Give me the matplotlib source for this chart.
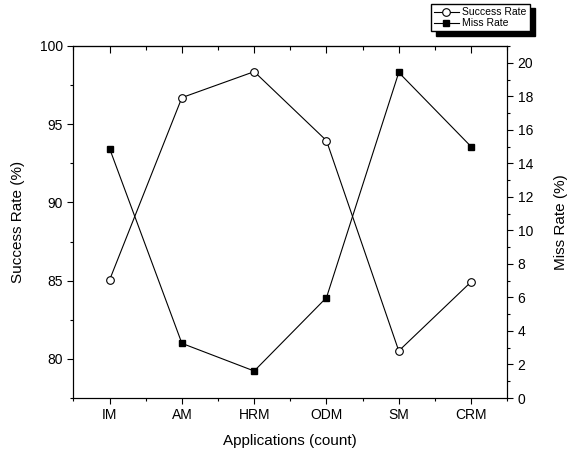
import matplotlib
matplotlib.use('Agg')
import matplotlib.pyplot as plt
from matplotlib.ticker import MultipleLocator, FixedLocator

plt.rcParams['font.family'] = ['Liberation Sans', 'DejaVu Sans']

apps = ['IM', 'AM', 'HRM', 'ODM', 'SM', 'CRM']
success_rate = [85.05, 96.7, 98.36, 93.95, 80.51, 84.92]
miss_rate = [14.88, 3.26, 1.61, 5.99, 19.42, 15.0]

x = list(range(1, len(apps) + 1))

fig = plt.figure(figsize=(5.83, 4.53), dpi=100)
ax = fig.add_axes([0.126, 0.1214, 0.744, 0.7771])
ax2 = ax.twinx()

l1, = ax.plot(x, success_rate, color='black', lw=0.8, marker='o', ms=5.5,
              mfc='white', mec='black', mew=0.8, label='Success Rate')
l2, = ax2.plot(x, miss_rate, color='black', lw=0.8, marker='s', ms=5,
               mfc='black', mec='black', label='Miss Rate')

ax.set_xlim(0.5, 6.5)
ax.set_ylim(77.5, 100)
ax2.set_ylim(0, 21)

ax.set_xticks(x)
ax.set_xticklabels(apps)
ax.xaxis.set_minor_locator(FixedLocator([0.5 + i for i in range(7)]))
ax.yaxis.set_major_locator(MultipleLocator(5))
ax.yaxis.set_minor_locator(MultipleLocator(2.5))
ax2.yaxis.set_major_locator(MultipleLocator(2))
ax2.yaxis.set_minor_locator(MultipleLocator(1))

ax.tick_params(axis='both', which='major', direction='out', length=4, width=0.8, labelsize=10)
ax.tick_params(axis='both', which='minor', direction='out', length=2.5, width=0.8)
ax2.tick_params(axis='y', which='major', direction='out', length=4, width=0.8, labelsize=10)
ax2.tick_params(axis='y', which='minor', direction='out', length=2.5, width=0.8)

top = ax.secondary_xaxis('top')
top.set_xticks(x)
top.xaxis.set_minor_locator(FixedLocator([0.5 + i for i in range(7)]))
top.tick_params(which='major', direction='in', length=5, width=0.8, labeltop=False)
top.tick_params(which='minor', direction='in', length=3, width=0.8)
top.spines['top'].set_linewidth(0.8)

for a in (ax, ax2):
    for s in a.spines.values():
        s.set_linewidth(0.8)

ax.set_xlabel('Applications (count)', fontsize=11, labelpad=8)
ax.set_ylabel('Success Rate (%)', fontsize=11, labelpad=11)
ax2.set_ylabel('Miss Rate (%)', fontsize=11, labelpad=15)

fig.legend(handles=[l1, l2], loc='upper left', bbox_to_anchor=(0.739, 0.991),
           fontsize=7.5, frameon=True, fancybox=False, edgecolor='black',
           framealpha=1, handlelength=2.4, handletextpad=0.3, borderpad=0.3,
           labelspacing=0.1, borderaxespad=0,
           shadow={'color': 'black', 'alpha': 1, 'ox': 4, 'oy': -3})

fig.savefig('out.png', dpi=100)
